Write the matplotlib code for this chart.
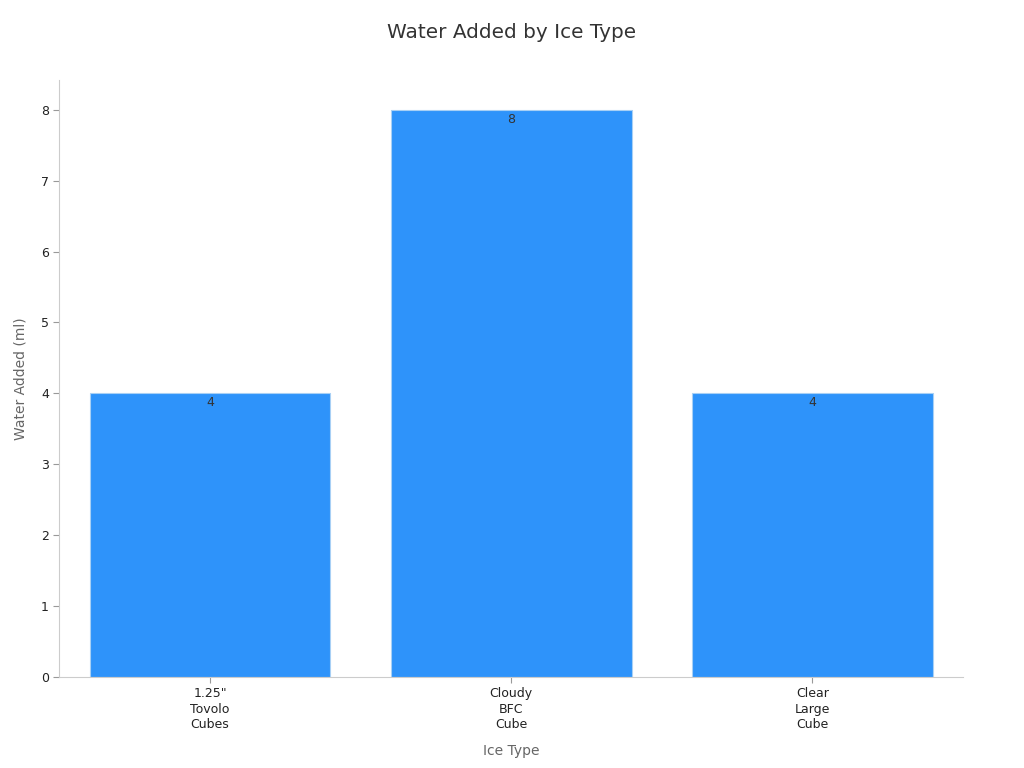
import matplotlib

matplotlib.use("Agg")
import matplotlib.pyplot as plt  # noqa: E402

categories = ["1.25\"\nTovolo\nCubes", "Cloudy\nBFC\nCube", "Clear\nLarge\nCube"]
water_ml = [4, 8, 4]
y_ticks = [0, 1, 2, 3, 4, 5, 6, 7, 8]

plt.rcParams["font.family"] = ["DejaVu Sans"]

fig = plt.figure(figsize=(10.24, 7.68), dpi=100)
ax = fig.add_axes([0.0580, 0.1185, 0.8824, 0.7773])

x = range(len(categories))
bars = ax.bar(x, water_ml, width=0.8, color="#2E93FA", edgecolor="#a8d0f5", linewidth=0.8)
for b, v in zip(bars, water_ml):
    ax.annotate(f"{v}", (b.get_x() + b.get_width() / 2, v), xytext=(0, -2),
                textcoords="offset points", ha="center", va="top",
                fontsize=9, color="#333333")

ax.set_xlim(-0.5, 2.5)
ax.set_ylim(0, 8.42)
ax.set_xticks(list(x))
ax.set_xticklabels(categories, fontsize=9, color="#222222", linespacing=1.25)
ax.set_yticks(y_ticks)
ax.tick_params(axis="y", labelsize=9, colors="#222222", length=4, color="#999999")
ax.tick_params(axis="x", length=4, color="#999999")
for s in ("top", "right"):
    ax.spines[s].set_visible(False)
for s in ("left", "bottom"):
    ax.spines[s].set_color("#cccccc")

ax.set_xlabel("Ice Type", fontsize=10, color="#666666", labelpad=9)
ax.set_ylabel("Water Added (ml)", fontsize=10, color="#666666", labelpad=10)
fig.suptitle("Water Added by Ice Type", fontsize=14.4, color="#333333", y=0.97)

fig.savefig("out.png", dpi=100)
